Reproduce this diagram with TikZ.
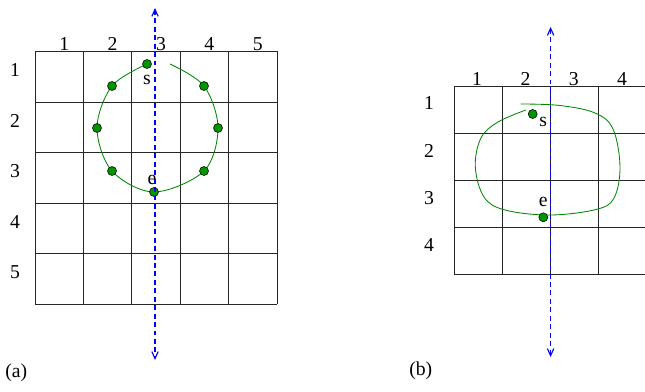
\documentclass[tikz,border=0pt]{standalone}
\usepackage{fontspec}
\setmainfont{Liberation Serif}
\usepackage{xcolor}
\usetikzlibrary{arrows.meta}

\definecolor{figgreen}{RGB}{0,150,0}
\definecolor{figblue}{RGB}{0,0,255}

\begin{document}
\begin{tikzpicture}[x=0.025cm, y=-0.025cm,
    gridline/.style={line width=0.7pt, black!85},
    scanline/.style={{Straight Barb[length=5pt,width=4.5pt]}-{Straight Barb[length=5pt,width=4.5pt]}, figblue, dash pattern=on 3.5pt off 2.5pt, line width=0.8pt},
    trace/.style={figgreen!90!black, line width=0.6pt, smooth, tension=0.55},
    dot/.style={circle, draw=black, line width=0.4pt, fill=figgreen, inner sep=0pt, minimum size=6.4pt},
    lbl/.style={font=\fontsize{14}{16}\selectfont, inner sep=0pt}]
    \useasboundingbox (0,0) rectangle (645,392);

    % Grid (a)
    \foreach \i in {0,...,5} {
        \draw[gridline] ({35+48.4*\i},51.5) -- ({35+48.4*\i},304);
        \draw[gridline] (35,{51.5+50.5*\i}) -- (277,{51.5+50.5*\i});
    }
    \foreach \i in {1,...,5} {
        \node[lbl, anchor=base] (colA\i) at ({35+48.4*(\i-0.5)+5},50.5) {\i};
        \node[lbl, anchor=base] (rowA\i) at (15,{51.5+50.5*(\i-1)+25.5}) {\i};
    }

    % Walk round the ring (a)
    \coordinate (goA) at (170,64);
    \coordinate (pA1) at (204,86);
    \coordinate (pA2) at (218,128);
    \coordinate (pA3) at (204,171);
    \coordinate (pA4) at (154,192);
    \coordinate (pA5) at (112,171);
    \coordinate (pA6) at (97,128);
    \coordinate (pA7) at (112,86);
    \coordinate (pA8) at (147,64);
    \draw[trace] plot coordinates {(goA) (pA1) (pA2) (pA3) (pA4) (pA5) (pA6) (pA7) (pA8)};
    \foreach \k in {1,...,8} {
        \node[dot] (dA\k) at (pA\k) {};
    }
    \node[lbl] (sA) at (147,80) {s};
    \node[lbl] (eA) at (152,180) {e};

    % Scan line (a)
    \coordinate (topA) at (155,8);
    \coordinate (botA) at (155,360);
    \draw[scanline] (topA) -- (botA);
    \node[lbl, anchor=base west] (capA) at (5,378) {(a)};

    % Grid (b)
    \foreach \i in {0,...,4} {
        \draw[gridline] ({454+48.3*\i},86) -- ({454+48.3*\i},274.5);
        \draw[gridline] (454,{86+47.1*\i}) -- (648,{86+47.1*\i});
    }
    \foreach \i in {1,...,4} {
        \node[lbl, anchor=base] (colB\i) at ({454+48.3*(\i-0.5)-1},86) {\i};
        \node[lbl, anchor=base] (rowB\i) at (429,{86+47.1*(\i-1)+24}) {\i};
    }

    % Walk round the loop (b)
    \coordinate (goB) at (520.7,104);
    \coordinate (pB1) at (532.7,114);
    \coordinate (pB2) at (543.3,217.3);
    \draw[trace, tension=0.6] plot coordinates {(goB) (560,105.5) (595,113) (613,129) (620,166.7) (614,198) (596,209.5) (550,215) (505,210) (484,197) (475.3,166.7) (481,138) (498,122) (526,110)};
    \node[dot] (sdotB) at (pB1) {};
    \node[dot] (edotB) at (pB2) {};
    \node[lbl] (sB) at (543.3,122) {s};
    \node[lbl] (eB) at (543.3,202) {e};

    % Scan line (b)
    \coordinate (topB) at (550.6,27);
    \coordinate (botB) at (550.6,357);
    \draw[scanline] (topB) -- (botB);
    \node[lbl, anchor=base west] (capB) at (409,376) {(b)};
\end{tikzpicture}
\end{document}
